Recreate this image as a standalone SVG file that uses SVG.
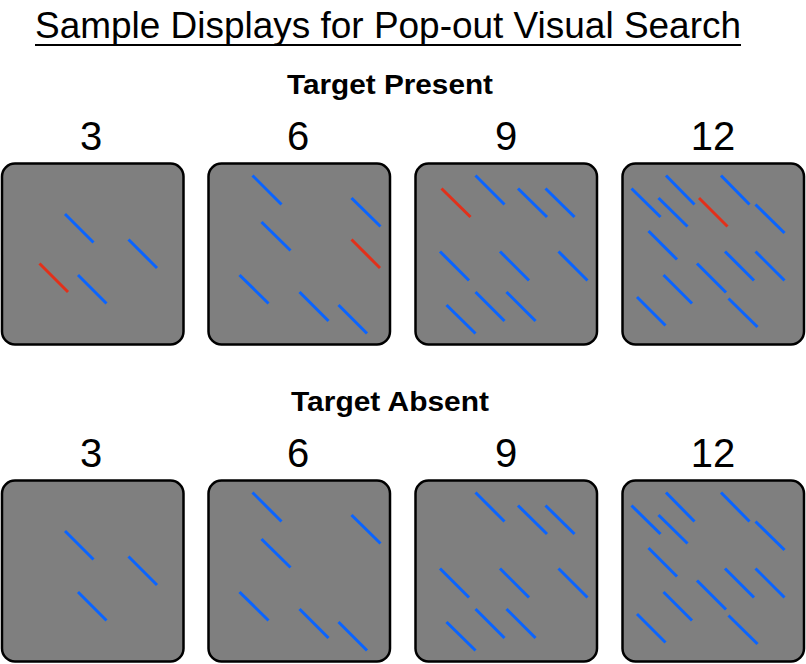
<svg xmlns="http://www.w3.org/2000/svg" width="806" height="664" viewBox="0 0 806 664">
<style>
.t{font-family:"Liberation Sans","DejaVu Sans",sans-serif;fill:#000}
.title{font-size:36px}
.sub{font-size:28px;font-weight:bold}
.num{font-size:40px}
.panel{fill:#7f7f7f;stroke:#000;stroke-width:2.5}
.b{stroke:#0a64ff;stroke-width:3}
.r{stroke:#e2301a;stroke-width:3}
</style>
<rect width="806" height="664" fill="#fff"/>
<g id="titles">
<text class="t title" x="35" y="38" textLength="706" lengthAdjust="spacingAndGlyphs">Sample Displays for Pop-out Visual Search</text>
<line x1="35" y1="45" x2="741" y2="45" stroke="#000" stroke-width="2"/>
<text class="t sub" x="390" y="94" text-anchor="middle" textLength="206" lengthAdjust="spacingAndGlyphs">Target Present</text>
<text class="t sub" x="390" y="411" text-anchor="middle" textLength="198" lengthAdjust="spacingAndGlyphs">Target Absent</text>
<g text-anchor="middle">
<text class="t num" x="91" y="150">3</text>
<text class="t num" x="298" y="150">6</text>
<text class="t num" x="506" y="150">9</text>
<text class="t num" x="713" y="150">12</text>
<text class="t num" x="91" y="467">3</text>
<text class="t num" x="298" y="467">6</text>
<text class="t num" x="506" y="467">9</text>
<text class="t num" x="713" y="467">12</text>
</g>
</g>
<g id="present-3">
<rect class="panel" x="2" y="163.5" width="181.5" height="181" rx="13"/>
<line class="b" x1="65" y1="214" x2="93.5" y2="242.5"/>
<line class="b" x1="128.5" y1="239.5" x2="157" y2="268"/>
<line class="r" x1="39.5" y1="263.5" x2="68" y2="292"/>
<line class="b" x1="78" y1="275" x2="106.5" y2="303.5"/>
</g>
<g id="present-6">
<rect class="panel" x="208.5" y="163.5" width="181.5" height="181" rx="13"/>
<line class="b" x1="252.5" y1="175.5" x2="281.5" y2="204.5"/>
<line class="b" x1="351.5" y1="198" x2="380.5" y2="226.5"/>
<line class="b" x1="261.5" y1="222" x2="290.5" y2="250.5"/>
<line class="r" x1="351.5" y1="239.5" x2="380" y2="268"/>
<line class="b" x1="239.5" y1="275" x2="268.5" y2="303.5"/>
<line class="b" x1="299.5" y1="292" x2="328.5" y2="321"/>
<line class="b" x1="338.5" y1="305" x2="367" y2="333.5"/>
</g>
<g id="present-9">
<rect class="panel" x="415.5" y="163.5" width="181.5" height="181" rx="13"/>
<line class="r" x1="441.5" y1="188.5" x2="470.5" y2="217"/>
<line class="b" x1="475.5" y1="175.5" x2="504.5" y2="204.5"/>
<line class="b" x1="518" y1="188.5" x2="547" y2="217"/>
<line class="b" x1="545.5" y1="188.5" x2="574.5" y2="217"/>
<line class="b" x1="440" y1="251.5" x2="469" y2="280.5"/>
<line class="b" x1="500" y1="251.5" x2="529" y2="280.5"/>
<line class="b" x1="558.5" y1="251.5" x2="587.5" y2="280.5"/>
<line class="b" x1="475.5" y1="292" x2="504.5" y2="321"/>
<line class="b" x1="506.5" y1="292" x2="535.5" y2="321"/>
<line class="b" x1="446.5" y1="305" x2="475.5" y2="333.5"/>
</g>
<g id="present-12">
<rect class="panel" x="622.5" y="163.5" width="181.5" height="181" rx="13"/>
<line class="b" x1="631.5" y1="188.5" x2="660.5" y2="217"/>
<line class="b" x1="666" y1="175.5" x2="694.5" y2="204.5"/>
<line class="b" x1="658.5" y1="198" x2="687.5" y2="226.5"/>
<line class="r" x1="699" y1="198" x2="727.5" y2="226.5"/>
<line class="b" x1="721" y1="175.5" x2="749.5" y2="204.5"/>
<line class="b" x1="755.5" y1="204.5" x2="784.5" y2="233"/>
<line class="b" x1="648.5" y1="231" x2="677" y2="259.5"/>
<line class="b" x1="725" y1="251.5" x2="754" y2="280.5"/>
<line class="b" x1="755.5" y1="251.5" x2="784.5" y2="280.5"/>
<line class="b" x1="697" y1="263.5" x2="726" y2="292.5"/>
<line class="b" x1="663.5" y1="275" x2="692" y2="303.5"/>
<line class="b" x1="637" y1="297" x2="665.5" y2="325.5"/>
<line class="b" x1="728.5" y1="298.5" x2="757.5" y2="327"/>
</g>
<g id="absent-3" transform="translate(0,317)">
<rect class="panel" x="2" y="163.5" width="181.5" height="181" rx="13"/>
<line class="b" x1="65" y1="214" x2="93.5" y2="242.5"/>
<line class="b" x1="128.5" y1="239.5" x2="157" y2="268"/>
<line class="b" x1="78" y1="275" x2="106.5" y2="303.5"/>
</g>
<g id="absent-6" transform="translate(0,317)">
<rect class="panel" x="208.5" y="163.5" width="181.5" height="181" rx="13"/>
<line class="b" x1="252.5" y1="175.5" x2="281.5" y2="204.5"/>
<line class="b" x1="351.5" y1="198" x2="380.5" y2="226.5"/>
<line class="b" x1="261.5" y1="222" x2="290.5" y2="250.5"/>
<line class="b" x1="239.5" y1="275" x2="268.5" y2="303.5"/>
<line class="b" x1="299.5" y1="292" x2="328.5" y2="321"/>
<line class="b" x1="338.5" y1="305" x2="367" y2="333.5"/>
</g>
<g id="absent-9" transform="translate(0,317)">
<rect class="panel" x="415.5" y="163.5" width="181.5" height="181" rx="13"/>
<line class="b" x1="475.5" y1="175.5" x2="504.5" y2="204.5"/>
<line class="b" x1="518" y1="188.5" x2="547" y2="217"/>
<line class="b" x1="545.5" y1="188.5" x2="574.5" y2="217"/>
<line class="b" x1="440" y1="251.5" x2="469" y2="280.5"/>
<line class="b" x1="500" y1="251.5" x2="529" y2="280.5"/>
<line class="b" x1="558.5" y1="251.5" x2="587.5" y2="280.5"/>
<line class="b" x1="475.5" y1="292" x2="504.5" y2="321"/>
<line class="b" x1="506.5" y1="292" x2="535.5" y2="321"/>
<line class="b" x1="446.5" y1="305" x2="475.5" y2="333.5"/>
</g>
<g id="absent-12" transform="translate(0,317)">
<rect class="panel" x="622.5" y="163.5" width="181.5" height="181" rx="13"/>
<line class="b" x1="631.5" y1="188.5" x2="660.5" y2="217"/>
<line class="b" x1="666" y1="175.5" x2="694.5" y2="204.5"/>
<line class="b" x1="658.5" y1="198" x2="687.5" y2="226.5"/>
<line class="b" x1="721" y1="175.5" x2="749.5" y2="204.5"/>
<line class="b" x1="755.5" y1="204.5" x2="784.5" y2="233"/>
<line class="b" x1="648.5" y1="231" x2="677" y2="259.5"/>
<line class="b" x1="725" y1="251.5" x2="754" y2="280.5"/>
<line class="b" x1="755.5" y1="251.5" x2="784.5" y2="280.5"/>
<line class="b" x1="697" y1="263.5" x2="726" y2="292.5"/>
<line class="b" x1="663.5" y1="275" x2="692" y2="303.5"/>
<line class="b" x1="637" y1="297" x2="665.5" y2="325.5"/>
<line class="b" x1="728.5" y1="298.5" x2="757.5" y2="327"/>
</g>
</svg>
